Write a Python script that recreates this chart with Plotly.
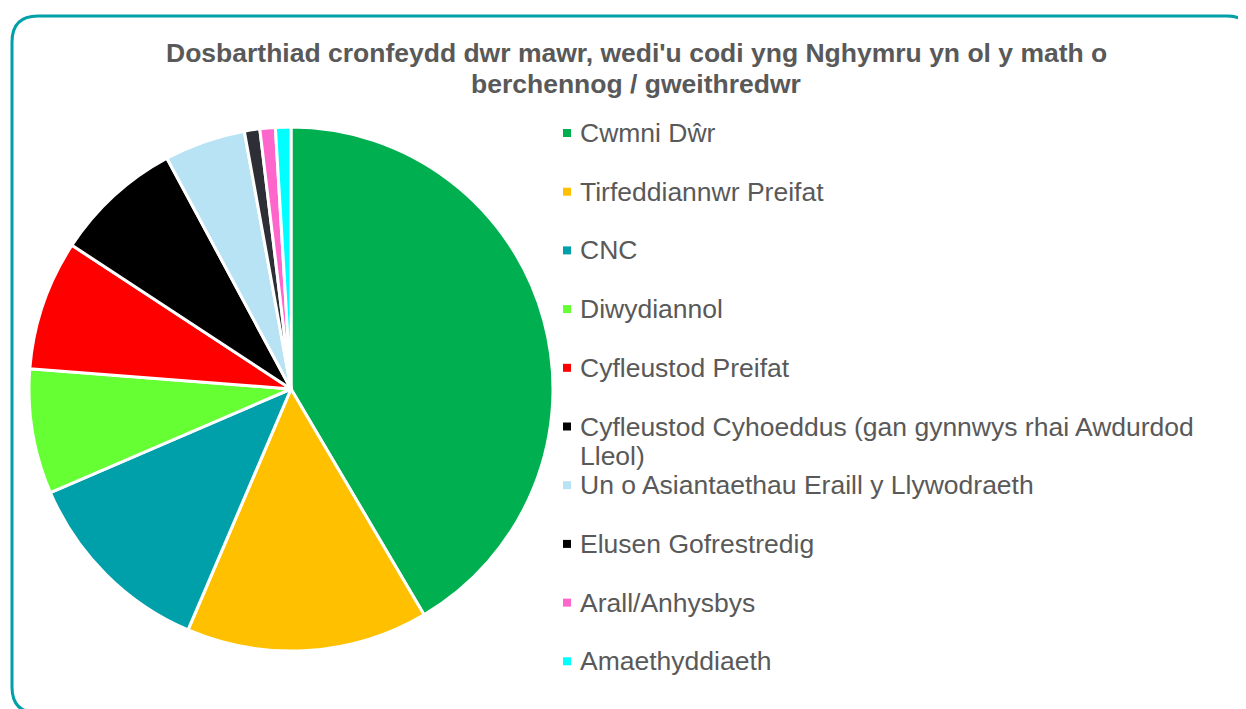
import plotly.graph_objects as go

labels = ["Cwmni Dŵr", "Tirfeddiannwr Preifat", "CNC", "Diwydiannol", "Cyfleustod Preifat",
          "Cyfleustod Cyhoeddus (gan gynnwys rhai Awdurdod Lleol)",
          "Un o Asiantaethau Eraill y Llywodraeth", "Elusen Gofrestredig",
          "Arall/Anhysbys", "Amaethyddiaeth"]
legend_lines = [["Cwmni Dŵr"], ["Tirfeddiannwr Preifat"], ["CNC"], ["Diwydiannol"],
                ["Cyfleustod Preifat"],
                ["Cyfleustod Cyhoeddus (gan gynnwys rhai Awdurdod", "Lleol)"],
                ["Un o Asiantaethau Eraill y Llywodraeth"], ["Elusen Gofrestredig"],
                ["Arall/Anhysbys"], ["Amaethyddiaeth"]]
values = [41.5, 14.9, 12.1, 7.7, 8.0, 7.9, 5.0, 0.95, 0.95, 0.95]
colors = ["#00B050", "#FFC000", "#00A0AA", "#66FF33", "#FF0000", "#000000",
          "#B7E3F5", "#2E2E36", "#FF66CC", "#00FFFF"]
legend_colors = ["#00B050", "#FFC000", "#00A0AA", "#66FF33", "#FF0000", "#000000",
                 "#B7E3F5", "#000000", "#FF66CC", "#00FFFF"]

W, H = 1246, 709
OFF = 8  # page offset of the figure
def px(x):
    return (x - OFF) / W
def py(y):
    return 1 - (y - OFF) / H

fig = go.Figure()
fig.add_trace(go.Pie(
    labels=labels, values=values, sort=False, direction="clockwise", rotation=0,
    marker=dict(colors=colors, line=dict(color="white", width=3)),
    textinfo="none", hoverinfo="label+percent", showlegend=False,
    domain=dict(x=[px(29), px(553)], y=[py(651), py(127)]),
))

TXT = "#595959"
FONT = "Liberation Sans, Arial"
annotations = [
    dict(x=px(636), y=py(y), xref="paper", yref="paper", xanchor="center", yanchor="middle",
         text=f"<b>{t}</b>", showarrow=False,
         font=dict(family=FONT, size=26.5, color=TXT))
    for t, y in [("Dosbarthiad cronfeydd dwr mawr, wedi'u codi yng Nghymru yn ol y math o", 53),
                 ("berchennog / gweithredwr", 84)]
]
shapes = []
y0, pitch = 133, 58.7
for i, (lines, c) in enumerate(zip(legend_lines, legend_colors)):
    yc = y0 + i * pitch
    for j, t in enumerate(lines):
        annotations.append(dict(
            x=px(578), y=py(yc + j * 29), xref="paper", yref="paper",
            xanchor="left", yanchor="middle",
            text=t, showarrow=False, align="left",
            font=dict(family=FONT, size=26.5, color=TXT),
        ))
    shapes.append(dict(type="rect", xref="paper", yref="paper",
                       x0=px(563), x1=px(571), y0=py(yc + 4), y1=py(yc - 4),
                       fillcolor=c, line=dict(width=0)))

# rounded card border
L, T, R, B, r = 12, 16, 1253, 713, 26
path = (f"M {px(L)},{py(T + r)} Q {px(L)},{py(T)} {px(L + r)},{py(T)} "
        f"L {px(R - r)},{py(T)} Q {px(R)},{py(T)} {px(R)},{py(T + r)} "
        f"L {px(R)},{py(B - r)} Q {px(R)},{py(B)} {px(R - r)},{py(B)} "
        f"L {px(L + r)},{py(B)} Q {px(L)},{py(B)} {px(L)},{py(B - r)} Z")
shapes.append(dict(type="path", xref="paper", yref="paper", path=path,
                   line=dict(color="#00A0A8", width=3), layer="below"))

fig.update_layout(
    width=W, height=H, margin=dict(l=0, r=0, t=0, b=0),
    paper_bgcolor="white", plot_bgcolor="white",
    annotations=annotations, shapes=shapes, showlegend=False,
)
fig.write_html("out.html")
